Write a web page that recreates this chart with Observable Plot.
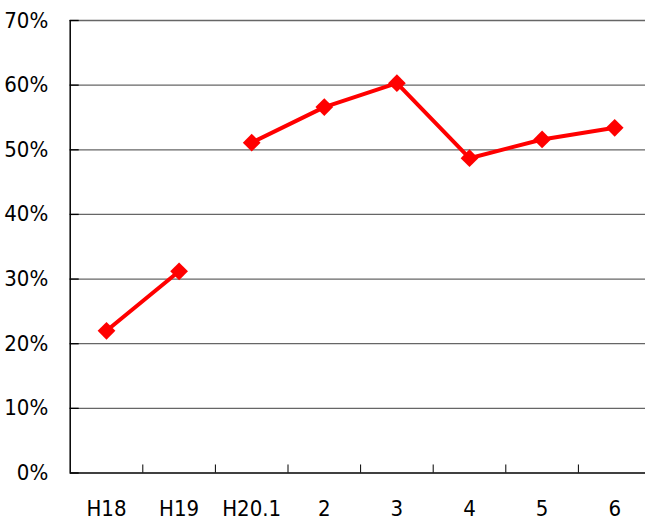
<!DOCTYPE html>
<html>
<head>
<meta charset="utf-8">
<script src="https://cdn.jsdelivr.net/npm/d3@7"></script>
<script src="https://cdn.jsdelivr.net/npm/@observablehq/plot@0.6"></script>
<style>
  html, body { margin: 0; padding: 0; background: #fff; overflow: hidden; }
</style>
</head>
<body>
<div id="chart"></div>
<script>
const categories = ["H18", "H19", "H20.1", "2", "3", "4", "5", "6"];
const values = [0.220, 0.312, 0.511, 0.566, 0.603, 0.487, 0.516, 0.534];
const segments = [0, 0, 1, 1, 1, 1, 1, 1];
const yTicks = [0, 0.1, 0.2, 0.3, 0.4, 0.5, 0.6, 0.7];

const data = categories.map((c, i) => ({i, label: c, value: values[i], seg: segments[i]}));
const boundaries = categories.slice(1).map((_, i) => i + 0.5);
const xMin = -0.5;

const chart = Plot.plot({
  width: 645,
  height: 521,
  marginTop: 20,
  marginBottom: 48.5,
  marginLeft: 69.7,
  marginRight: 0,
  style: {fontFamily: "'DejaVu Sans Condensed', 'DejaVu Sans', sans-serif", fontSize: "22px", color: "#000", background: "#fff", overflow: "visible"},
  x: {domain: [-0.5, 7.5], range: [69.7, 650.5]},
  y: {domain: [0, 0.7], range: [472.5, 20]},
  marks: [
    Plot.ruleY(yTicks.slice(1), {stroke: "#666", strokeWidth: 1.3}),
    Plot.ruleY(yTicks, {x1: xMin, x2: xMin + 0.124, stroke: "#000", strokeWidth: 1.3}),
    Plot.ruleX(boundaries, {y1: 0, y2: 0.0124, stroke: "#000", strokeWidth: 1}),
    Plot.ruleX([xMin], {y1: 0, y2: 0.7, stroke: "#000", strokeWidth: 1.5}),
    Plot.ruleY([0], {stroke: "#000", strokeWidth: 1.5}),
    Plot.axisY({ticks: yTicks, tickFormat: d => Math.round(d * 100) + "%", tickSize: 0, tickPadding: 22, fontSize: 22, label: null}),
    Plot.axisX({ticks: categories.map((_, i) => i), tickFormat: i => categories[i], tickSize: 0, tickPadding: 27, fontSize: 22, label: null}),
    Plot.line(data, {x: "i", y: "value", z: "seg", stroke: "#ff0000", strokeWidth: 4}),
    Plot.dot(data, {x: "i", y: "value", symbol: "diamond2", r: 8, fill: "#ff0000", stroke: "none"})
  ]
});
document.getElementById("chart").appendChild(chart);
</script>
</body>
</html>
